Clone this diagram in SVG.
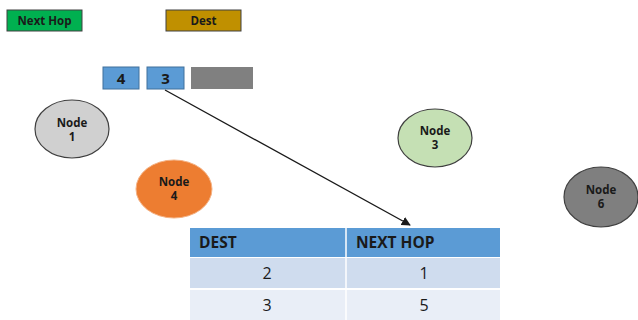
<svg xmlns="http://www.w3.org/2000/svg" width="638" height="320" viewBox="0 0 638 320">
  <style>
    text { font-family: "Open Sans", "Liberation Sans", sans-serif; font-weight: bold; fill: #1a1a1a; }
    .legend { font-size: 11.5px; }
    .pkt { font-size: 15px; }
    .node { stroke: #404040; stroke-width: 1.2; }
    .nlabel { font-size: 11.5px; text-anchor: middle; }
    .th { font-size: 15.5px; }
    .td { font-size: 16px; font-weight: normal; text-anchor: middle; }
  </style>
  <defs>
    <marker id="arrow" viewBox="0 0 10 10" refX="9" refY="5" markerWidth="7" markerHeight="7" orient="auto">
      <path d="M0,0 L10,5 L0,10 z" fill="#1a1a1a"/>
    </marker>
  </defs>

  <rect width="638" height="320" fill="#ffffff"/>

  <!-- legend -->
  <g id="legend-nexthop">
    <rect x="7" y="10" width="75" height="21" fill="#00b050" stroke="#404040" stroke-width="1"/>
    <text class="legend" x="44.5" y="24.5" text-anchor="middle">Next Hop</text>
  </g>
  <g id="legend-dest">
    <rect x="166" y="10" width="75" height="21" fill="#c09000" stroke="#404040" stroke-width="1"/>
    <text class="legend" x="203.5" y="24.5" text-anchor="middle">Dest</text>
  </g>

  <!-- packet header -->
  <g id="packet">
    <rect x="103" y="67" width="36" height="22" fill="#5b9bd5" stroke="#41719c" stroke-width="1"/>
    <text class="pkt" x="121" y="84" text-anchor="middle">4</text>
    <rect x="147" y="67" width="37" height="22" fill="#5b9bd5" stroke="#41719c" stroke-width="1"/>
    <text class="pkt" x="165.5" y="84" text-anchor="middle">3</text>
    <rect x="191" y="67" width="62" height="22" fill="#808080"/>
  </g>

  <!-- nodes -->
  <g id="node1">
    <ellipse class="node" cx="72" cy="129" rx="37" ry="29" fill="#d0d0d0"/>
    <text class="nlabel" x="72" y="127">Node</text>
    <text class="nlabel" x="72" y="141">1</text>
  </g>
  <g id="node4">
    <ellipse cx="174" cy="189" rx="38" ry="29" fill="#ed7d31" stroke="#f4b183" stroke-width="1"/>
    <text class="nlabel" x="174" y="186">Node</text>
    <text class="nlabel" x="174" y="200">4</text>
  </g>
  <g id="node3">
    <ellipse class="node" cx="435" cy="138" rx="37" ry="29" fill="#c5e0b4"/>
    <text class="nlabel" x="435" y="135">Node</text>
    <text class="nlabel" x="435" y="149">3</text>
  </g>
  <g id="node6">
    <ellipse class="node" cx="601" cy="197" rx="37" ry="30" fill="#7f7f7f"/>
    <text class="nlabel" x="601" y="194">Node</text>
    <text class="nlabel" x="601" y="208">6</text>
  </g>

  <!-- connectors -->
  <g id="connectors">
    <line x1="165" y1="90" x2="410" y2="225" stroke="#1a1a1a" stroke-width="1.3" marker-end="url(#arrow)"/>
  </g>

  <!-- routing table -->
  <g id="table">
    <rect x="190" y="228" width="310" height="29" fill="#5b9bd5"/>
    <rect x="190" y="258" width="310" height="30" fill="#cfdcee"/>
    <rect x="190" y="290" width="310" height="30" fill="#e9eef7"/>
    <line x1="346" y1="228" x2="346" y2="320" stroke="#ffffff" stroke-width="1.5"/>
    <text class="th" x="199" y="248">DEST</text>
    <text class="th" x="356" y="248">NEXT HOP</text>
    <text class="td" x="267" y="279">2</text>
    <text class="td" x="424" y="279">1</text>
    <text class="td" x="267" y="311">3</text>
    <text class="td" x="424" y="311">5</text>
  </g>
</svg>
